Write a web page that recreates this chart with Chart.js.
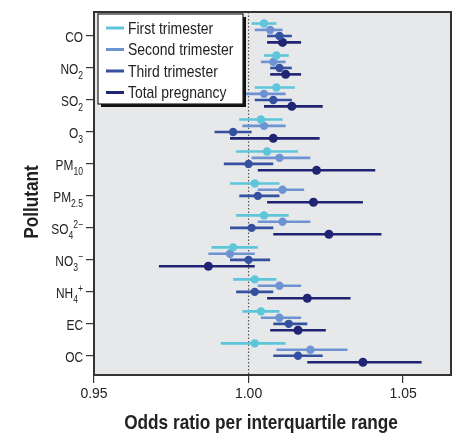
<!DOCTYPE html>
<html>
<head>
<meta charset="utf-8">
<script src="https://cdn.jsdelivr.net/npm/chart.js@4.4.0/dist/chart.umd.min.js"></script>
<style>
  html, body { margin: 0; padding: 0; background: #fff; }
  #wrap { width: 456px; height: 434px; }
</style>
</head>
<body>
<div id="wrap"><canvas id="orChart" width="456" height="434"></canvas></div>
<script>
// pollutant labels: [base, subscript, superscript]
const POLLUTANTS = [
    ['CO'], ['NO', '2'], ['SO', '2'], ['O', '3'], ['PM', '10'], ['PM', '2.5'],
    ['SO', '4', '2\u2212'], ['NO', '3', '\u2212'], ['NH', '4', '+'], ['EC'], ['OC']
];

const SERIES_NAMES = ['First trimester', 'Second trimester', 'Third trimester', 'Total pregnancy'];
const SERIES_COLORS = ['#5ec6da', '#6e93d3', '#34509f', '#1f2473'];

const X_TICKS = [0.95, 1.00, 1.05];

// [lower CI, odds ratio, upper CI] per pollutant, same order as POLLUTANTS
const FIRST_TRIMESTER = [
    [1.001, 1.005, 1.009], [1.005, 1.009, 1.013], [1.002, 1.009, 1.015], [0.997, 1.004, 1.011],
    [0.996, 1.006, 1.016], [0.994, 1.002, 1.010], [0.996, 1.005, 1.013], [0.988, 0.995, 1.003],
    [0.995, 1.002, 1.009], [0.998, 1.004, 1.010], [0.991, 1.002, 1.012]
];
const SECOND_TRIMESTER = [
    [1.002, 1.007, 1.011], [1.004, 1.008, 1.012], [0.999, 1.005, 1.012], [0.998, 1.005, 1.012],
    [1.001, 1.010, 1.020], [1.003, 1.011, 1.018], [1.003, 1.011, 1.020], [0.987, 0.994, 1.002],
    [1.003, 1.010, 1.017], [1.004, 1.010, 1.017], [1.009, 1.020, 1.032]
];
const THIRD_TRIMESTER = [
    [1.006, 1.010, 1.014], [1.007, 1.010, 1.014], [1.002, 1.008, 1.014], [0.989, 0.995, 1.001],
    [0.992, 1.000, 1.008], [0.997, 1.003, 1.010], [0.994, 1.001, 1.008], [0.994, 1.000, 1.007],
    [0.996, 1.002, 1.008], [1.008, 1.013, 1.019], [1.008, 1.016, 1.024]
];
const TOTAL_PREGNANCY = [
    [1.006, 1.011, 1.017], [1.007, 1.012, 1.017], [1.005, 1.014, 1.024], [0.994, 1.008, 1.023],
    [1.003, 1.022, 1.041], [1.006, 1.021, 1.037], [1.008, 1.026, 1.043], [0.971, 0.987, 1.002],
    [1.006, 1.019, 1.033], [1.007, 1.016, 1.025], [1.019, 1.037, 1.056]
];

const ALL_SERIES = [FIRST_TRIMESTER, SECOND_TRIMESTER, THIRD_TRIMESTER, TOTAL_PREGNANCY];
// vertical offset of each series row inside a pollutant group (in category units)
const ROW_OFFSETS = [-0.39, -0.19, 0, 0.2];

const FONT = '"Liberation Sans", Arial, sans-serif';
const NARROW = 0.82; // horizontal squeeze to mimic the condensed face
const TEXT_COLOR = '#222';

document.addEventListener('DOMContentLoaded', function () {
    const ctx = document.getElementById('orChart').getContext('2d');

    const datasets = ALL_SERIES.map((series, s) => ({
        label: SERIES_NAMES[s],
        data: series.map((row, i) => ({ x: row[1], y: i + ROW_OFFSETS[s], lo: row[0], hi: row[2] })),
        backgroundColor: SERIES_COLORS[s],
        borderColor: SERIES_COLORS[s],
        borderWidth: 0,
        pointRadius: s === 3 ? 4.5 : 4.2
    }));

    // condensed text: draws text squeezed horizontally, left aligned at x
    function narrowText(c, text, x, y) {
        c.save();
        c.translate(x, y);
        c.scale(NARROW, 1);
        c.textAlign = 'left';
        c.fillText(text, 0, 0);
        c.restore();
    }
    function narrowWidth(c, text) {
        return c.measureText(text).width * NARROW;
    }

    function drawLabel(c, parts, xRight, y) {
        const mainFont = `14.5px ${FONT}`;
        const smallFont = `10.5px ${FONT}`;
        c.font = mainFont;
        const wMain = narrowWidth(c, parts[0]);
        c.font = smallFont;
        const wSub = parts[1] ? narrowWidth(c, parts[1]) : 0;
        const wSup = parts[2] ? narrowWidth(c, parts[2]) : 0;
        let x = xRight - wMain - wSub - wSup;
        const base = y + 6;
        c.textBaseline = 'alphabetic';
        c.fillStyle = TEXT_COLOR;
        c.font = mainFont;
        narrowText(c, parts[0], x, base);
        x += wMain;
        c.font = smallFont;
        if (parts[1]) { narrowText(c, parts[1], x, base + 5); x += wSub; }
        if (parts[2]) { narrowText(c, parts[2], x, base - 6); }
    }

    const framePlugin = {
        id: 'frame',
        beforeDraw(chart) {
            const { ctx: c, chartArea: a } = chart;
            c.save();
            c.fillStyle = '#e7e8ea';
            c.fillRect(a.left, a.top, a.right - a.left, a.bottom - a.top);
            c.restore();
        },
        beforeDatasetsDraw(chart) {
            const { ctx: c, chartArea: a, scales } = chart;
            const x1 = scales.x.getPixelForValue(1);
            c.save();
            c.strokeStyle = '#555';
            c.lineWidth = 1.2;
            c.setLineDash([1.5, 2]);
            c.beginPath();
            c.moveTo(x1, a.top);
            c.lineTo(x1, a.bottom);
            c.stroke();
            c.restore();
        },
        beforeDatasetDraw(chart, args) {
            const { ctx: c, scales } = chart;
            const ds = chart.data.datasets[args.index];
            c.save();
            c.strokeStyle = ds.borderColor;
            c.lineWidth = 2.6;
            for (const pt of ds.data) {
                const y = scales.y.getPixelForValue(pt.y);
                c.beginPath();
                c.moveTo(scales.x.getPixelForValue(pt.lo), y);
                c.lineTo(scales.x.getPixelForValue(pt.hi), y);
                c.stroke();
            }
            c.restore();
        },
        afterDraw(chart) {
            const { ctx: c, chartArea: a, scales } = chart;
            c.save();
            // plot frame
            c.strokeStyle = '#333';
            c.lineWidth = 2;
            c.strokeRect(a.left, a.top, a.right - a.left, a.bottom - a.top);

            // y tick labels with sub/superscripts
            POLLUTANTS.forEach((p, i) => drawLabel(c, p, a.left - 11, scales.y.getPixelForValue(i)));

            // legend
            const lx = 98, ly = 14, lw = 145, lh = 90;
            c.fillStyle = '#111';
            c.fillRect(lx + 3, ly + 3, lw, lh);
            c.fillStyle = '#fff';
            c.fillRect(lx, ly, lw, lh);
            c.strokeStyle = '#222';
            c.lineWidth = 1.2;
            c.strokeRect(lx, ly, lw, lh);
            c.font = `17px ${FONT}`;
            c.textBaseline = 'middle';
            SERIES_NAMES.forEach((name, s) => {
                const y = ly + 14 + s * 21.5;
                c.strokeStyle = SERIES_COLORS[s];
                c.lineWidth = 3;
                c.beginPath();
                c.moveTo(lx + 8, y);
                c.lineTo(lx + 26, y);
                c.stroke();
                c.fillStyle = TEXT_COLOR;
                narrowText(c, name, lx + 30, y + 1);
            });

            // axis titles
            c.fillStyle = '#222';
            c.font = `bold 21px ${FONT}`;
            c.textBaseline = 'middle';
            const title = 'Odds ratio per interquartile range';
            narrowText(c, title, 261 - narrowWidth(c, title) / 2, 423);
            c.translate(32, 202);
            c.rotate(-Math.PI / 2);
            narrowText(c, 'Pollutant', -narrowWidth(c, 'Pollutant') / 2, 0);
            c.restore();
        }
    };

    new Chart(ctx, {
        type: 'scatter',
        data: { datasets: datasets },
        options: {
            responsive: false,
            animation: false,
            layout: { padding: { top: 12, right: 5, left: 0, bottom: 0 } },
            plugins: {
                legend: { display: false },
                tooltip: { enabled: false }
            },
            scales: {
                x: {
                    type: 'linear',
                    min: 0.95,
                    max: 1.0655,
                    afterBuildTicks: scale => { scale.ticks = X_TICKS.map(v => ({ value: v })); },
                    afterFit: scale => { scale.height = 59; },
                    ticks: {
                        callback: v => v.toFixed(2),
                        font: { family: FONT, size: 14 },
                        color: TEXT_COLOR,
                        padding: 3,
                        maxRotation: 0
                    },
                    grid: { drawOnChartArea: false, drawTicks: true, tickLength: 8, color: '#333', lineWidth: 1.2 },
                    border: { display: false }
                },
                y: {
                    type: 'linear',
                    reverse: true,
                    min: -0.75,
                    max: 10.6,
                    afterBuildTicks: scale => { scale.ticks = POLLUTANTS.map((p, i) => ({ value: i })); },
                    afterFit: scale => { scale.width = 94; },
                    ticks: { display: false },
                    grid: { drawOnChartArea: false, drawTicks: true, tickLength: 8, color: '#333', lineWidth: 1.2 },
                    border: { display: false }
                }
            }
        },
        plugins: [framePlugin]
    });
});
</script>
</body>
</html>
